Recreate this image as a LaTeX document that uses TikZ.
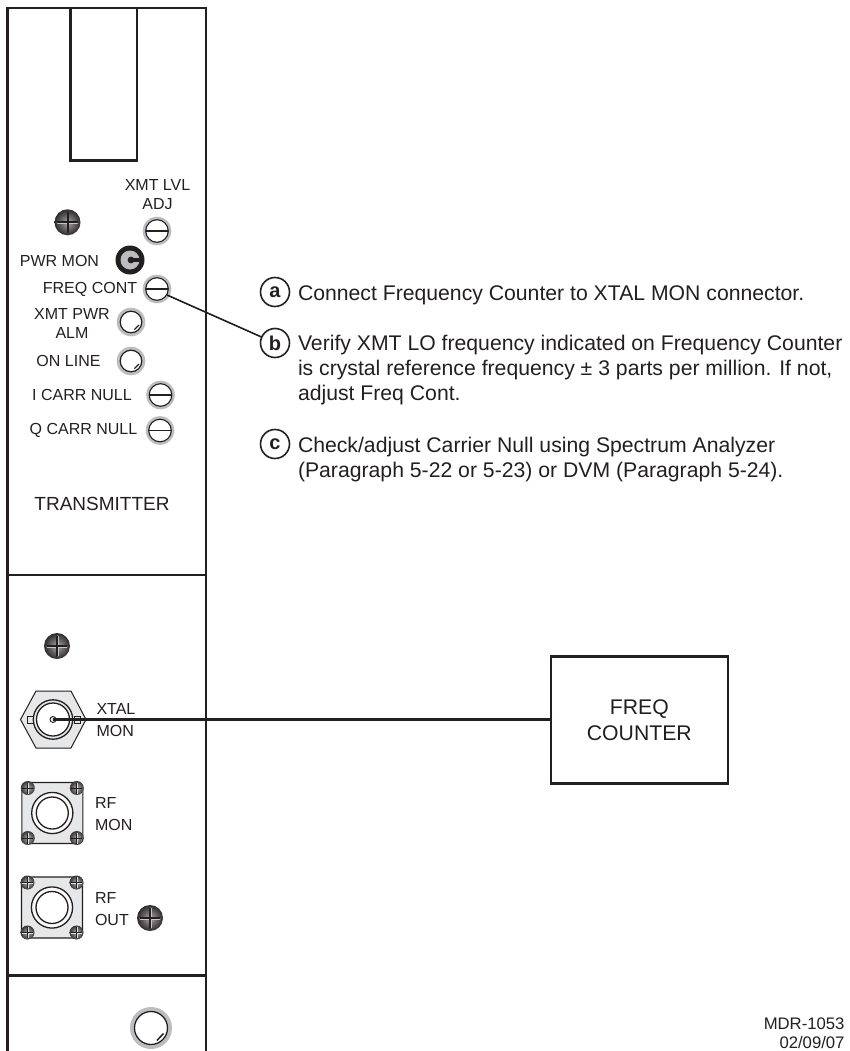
\documentclass[tikz,border=0pt]{standalone}
\usepackage{fontspec}
\setmainfont{Liberation Sans}
\definecolor{ink}{HTML}{231F20}
\definecolor{ringg}{HTML}{BCBDC0}
\definecolor{plate}{HTML}{E6E7E8}
\newcommand{\panelfont}{\fontsize{16}{19}\selectfont}
\newcommand{\notefont}{\fontsize{21.2}{25}\selectfont}
\tikzset{
 x=1pt,y=-1pt,
 every node/.style={text=ink,inner sep=0pt,outer sep=0pt},
 panelline/.style={draw=ink,line width=2.6pt},
 plabel/.style={font=\panelfont,align=center,anchor=center},
 llabel/.style={font=\panelfont,align=left,anchor=west},
 note/.style={font=\notefont,align=left,anchor=north west},
 letter/.style={circle,draw=ink,line width=1.6pt,minimum size=29pt,font=\fontsize{20}{20}\selectfont\bfseries},
 wire/.style={draw=ink,line width=1.6pt},
 pics/adj/.style={code={
   \fill[ringg] (0,0) circle (14.3);
   \fill[white,draw=ink,line width=1.1pt] (0,0) circle (11.3);
   \draw[ink,line width=1.1pt] (-11.3,0) -- (11.3,0);}},
 pics/led/.style={code={
   \fill[ringg] (0,0) circle (14.3);
   \fill[white,draw=ink,line width=1.2pt] (0,0) circle (10.8);
   \draw[ink,line width=1.2pt] (3.5,7.5) -- (8,3);}},
 pics/screw/.style={code={
   \shade[inner color=ink!40,outer color=ink!95] (0,0) circle (13);
   \draw[white!75!ink,line width=2.6pt,line cap=round] (-9.5,.6) -- (9.5,.6) (.6,-9.5) -- (.6,9.5);
   \draw[ink,line width=2pt,line cap=round] (-10,0) -- (10,0) (0,-10) -- (0,10);}},
 pics/tinyscrew/.style={code={
   \shade[inner color=ink!35,outer color=ink!90] (0,0) circle (7);
   \draw[white!85!ink,line width=1pt] (-5.5,.5) -- (5.5,.5) (.5,-5.5) -- (.5,5.5);
   \draw[ink,line width=.9pt] (-5.5,0) -- (5.5,0) (0,-5.5) -- (0,5.5);}},
 pics/rfconn/.style={code={
   \fill[plate,draw=ink,line width=1.1pt,rounded corners=5pt] (-30.5,-30.5) rectangle (30.5,30.5);
   \fill[white!75!plate,draw=ink,line width=1.3pt] (0,0) circle (20.6);
   \fill[white,draw=ink,line width=1.3pt] (0,0) circle (16);
   \pic at (-24.5,-25) {tinyscrew};\pic at (24.5,-25) {tinyscrew};
   \pic at (-24.5,25) {tinyscrew};\pic at (24.5,25) {tinyscrew};}},
}
\begin{document}
\begin{tikzpicture}
\useasboundingbox (0,0) rectangle (849,1051);
% panel
\draw[panelline] (7.3,1051) -- (7.3,8) -- (206,8) -- (206,1051);
\draw[panelline] (7.3,575) -- (206,575);
\draw[panelline] (7.3,975.7) -- (206,975.7);
\draw[panelline] (70.3,8) -- (70.3,160.5) -- (137,160.5) -- (137,8);
% upper panel labels
\node[plabel] at (157.5,194.5) {XMT LVL\\ADJ};
\node[plabel] at (59.5,261) {PWR MON};
\node[plabel] at (90,289) {FREQ CONT};
\node[plabel] at (72,323) {XMT PWR\\ALM};
\node[plabel] at (68.5,361) {ON LINE};
\node[plabel] at (82,395) {I CARR NULL};
\node[plabel] at (83.5,430) {Q CARR NULL};
\node[plabel,font=\fontsize{19}{20}\selectfont] at (102,504) {TRANSMITTER};
% upper panel hardware
\pic at (67.5,222.3) {screw};
\pic at (157,231) {adj};
\fill[ink] (130,260) circle (14.5);
\fill[ringg] (130,260) circle (9.5);
\fill[ink] (131,260) circle (3.4);
\fill[ink] (131,257.6) rectangle (141,262.4);
\pic at (157,289) {adj};
\pic at (131,322) {led};
\pic at (131,361) {led};
\pic at (160.5,395) {adj};
\pic at (160,430.5) {adj};
% lower panel
\pic at (57,646) {screw};
\fill[plate,draw=ink,line width=1pt] (20.5,719.5) -- (36,691) -- (71,691) -- (86,719.5) -- (71,748) -- (36,748) -- cycle;
\draw[ink,line width=.8pt,fill=plate] (27,716) rectangle (33,723);
\draw[ink,line width=.8pt,fill=plate] (74,716) rectangle (80,723);
\fill[plate,draw=ink,line width=1.3pt] (53,719.5) circle (19.7);
\fill[white,draw=ink,line width=1.3pt] (53,719.5) circle (16.5);
\node[circle,fill=plate,draw=ink,line width=.9pt,minimum size=6pt] (xtal) at (53,719.5) {};
\node[llabel] at (96.5,708.5) {XTAL};
\node[llabel] at (96.5,730.5) {MON};
\pic at (52.3,813) {rfconn};
\node[llabel] at (95,803) {RF};
\node[llabel] at (95,825) {MON};
\pic at (52,907.5) {rfconn};
\node[llabel] at (95,898) {RF};
\node[llabel] at (95,919.5) {OUT};
\pic at (150,918) {screw};
% bottom knob
\fill[ringg] (151,1028) circle (21);
\fill[white,draw=ink,line width=1.3pt] (151,1028) circle (16.5);
\draw[ink,line width=1.5pt] (157,1040.5) -- (163.5,1033.5);
% notes
\node[letter] (a) at (275,292) {a};
\node[letter] (b) at (275,343) {b};
\node[letter] (c) at (275,444) {c};
\node[note] at (298,285.5) {Connect Frequency Counter to XTAL MON connector.};
\node[note] at (298,335.5) {Verify XMT LO frequency indicated on Frequency Counter\\is crystal reference frequency ± 3 parts per million. If not,\\adjust Freq Cont.};
\node[note] at (298,437.5) {Check/adjust Carrier Null using Spectrum Analyzer\\(Paragraph 5-22 or 5-23) or DVM (Paragraph 5-24).};
\coordinate (freqcont) at (167,295);
\draw[wire] (freqcont) -- (b);
% freq counter
\node[draw=ink,line width=2.6pt,minimum width=177pt,minimum height=126.5pt,align=center,font=\fontsize{21.2}{25.5}\selectfont] (fc) at (639.3,720) {FREQ\\COUNTER};
\draw[ink,line width=2.6pt] (xtal.center) -- (fc.west |- xtal.center);
\node[font=\fontsize{16.7}{19}\selectfont,align=right,anchor=north east] at (844.5,1017.5) {MDR-1053\\02/09/07};
\end{tikzpicture}
\end{document}
